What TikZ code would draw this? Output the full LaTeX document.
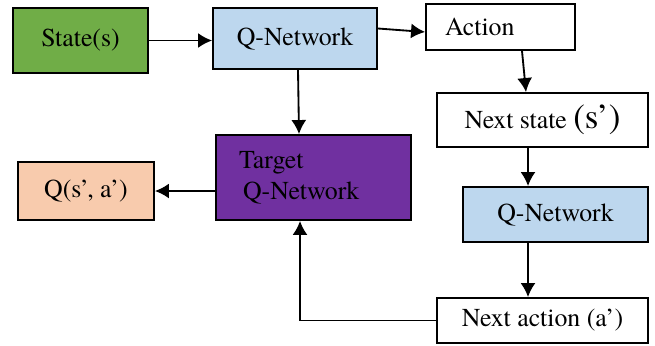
\documentclass[tikz,border=0pt]{standalone}
\usepackage{fontspec}
\setmainfont{texgyretermes-regular.otf}
\usepackage{tikz}
\usetikzlibrary{positioning, arrows.meta, calc}

\definecolor{stategreen}{HTML}{70AD47}
\definecolor{netblue}{HTML}{BDD7EE}
\definecolor{targetpurple}{HTML}{7030A0}
\definecolor{qpeach}{HTML}{F8CBAD}

\tikzset{
  box/.style={draw=black, line width=1.1pt, inner sep=0pt, align=center,
    font=\fontsize{14.7}{17.5}\selectfont},
  arr/.style={line width=1.05pt, -{Latex[length=0.28cm,width=0.3cm]}}
}

\begin{document}
\begin{tikzpicture}[x=0.02cm, y=-0.02cm]
    % Frame
    \useasboundingbox (0,0) rectangle (655,345);
    % Top row
    \node[box, fill=stategreen, minimum width=2.7cm, minimum height=1.3cm] (state) at (80.5,40.5) {State(s)};
    \node[box, fill=netblue, minimum width=3.28cm, minimum height=1.22cm] (qnet) at (295,38.5) {Q-Network};
    \node[box, minimum height=0.92cm, inner xsep=0.38cm, text width=2.22cm, align=left] (action) at (500.5,27) {\raisebox{-0.06cm}{Action}};
    % Right column
    \node[box, minimum width=4.22cm, minimum height=1.08cm] (nextstate) at (542.5,120) {Next state {\fontsize{19.9}{20}\selectfont(s’)}};
    \node[box, fill=netblue, minimum width=3.7cm, minimum height=1.1cm] (qnettwo) at (555.5,214.5) {Q-Network};
    \node[box, minimum width=4.22cm, minimum height=0.9cm] (nextaction) at (542.5,320.5) {Next action (a’)};
    % Target network and output
    \node[box, fill=targetpurple, minimum height=1.7cm, inner xsep=0.46cm, text width=2.98cm, align=left] (target) at (313.5,177.5) {Target\\\hspace*{0.08cm}Q-Network};
    \node[box, fill=qpeach, minimum width=2.72cm, minimum height=1.16cm] (qvalue) at (86,191) {Q(s’, a’)};
    \coordinate (down) at (528,0);
    % Arrows
    \draw[arr] (state.east) -- (state.east -| qnet.west);
    \draw[arr] ([yshift=0.2cm]qnet.east) -- ([yshift=-0.1cm]action.west);
    \draw[arr] ([xshift=0.43cm]action.south) -- ([xshift=-0.33cm]nextstate.north);
    \draw[arr] (nextstate.south -| down) -- (qnettwo.north -| down);
    \draw[arr] (qnettwo.south -| down) -- (nextaction.north -| down);
    \draw[arr] ([xshift=0.06cm]qnet.south) -- ([xshift=-0.29cm]target.north);
    \draw[arr] (target.west |- qvalue.east) -- (qvalue.east);
    \draw[arr] (nextaction.west) -| ([xshift=-0.27cm]target.south);
\end{tikzpicture}
\end{document}
